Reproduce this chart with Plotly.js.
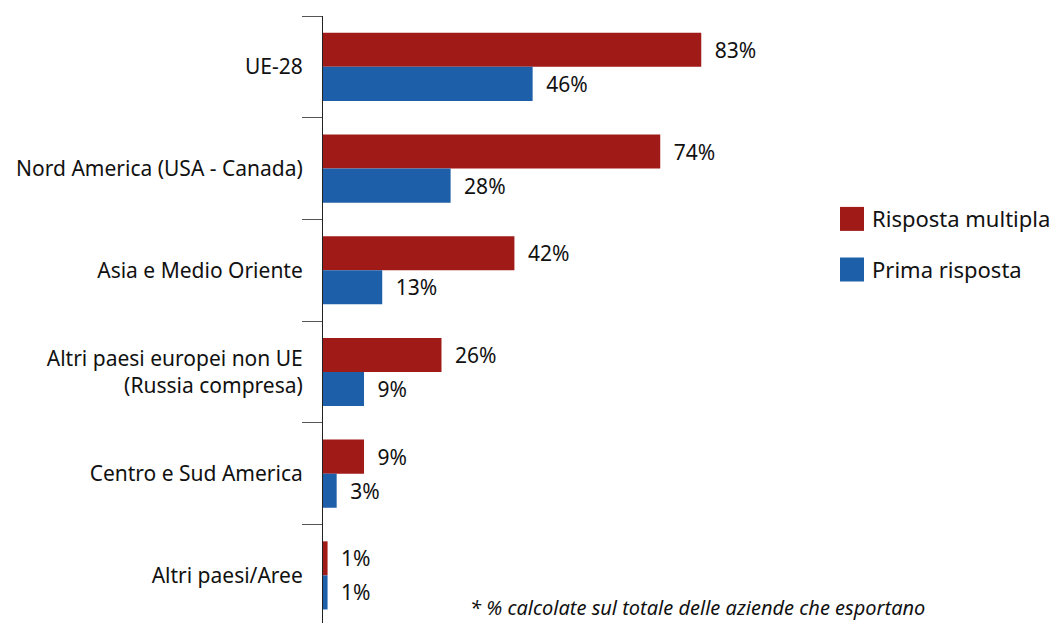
<!DOCTYPE html>
<html>
<head>
<meta charset="utf-8">
<script src="https://cdn.plot.ly/plotly-3.0.1.min.js"></script>
<style>
  html, body { margin: 0; padding: 0; background: #fff; }
  #chart { width: 1059px; height: 623px; }
</style>
</head>
<body>
<div id="chart"></div>
<script>
// Export destinations (share of exporting firms, %)
const categories = [
  "UE-28",
  "Nord America (USA - Canada)",
  "Asia e Medio Oriente",
  "Altri paesi europei non UE<br>(Russia compresa)",
  "Centro e Sud America",
  "Altri paesi/Aree"
];
const seriesNames = ["Risposta multipla", "Prima risposta"];
const rispostaMultipla = [83, 74, 42, 26, 9, 1];
const primaRisposta = [46, 28, 13, 9, 3, 1];
const footnote = "* % calcolate sul totale delle aziende che esportano";

const RED = "#A01A18";
const BLUE = "#1E5FAA";
const FONT = "Noto Sans, Open Sans, sans-serif";

function barTrace(name, values, color, group) {
  return {
    type: "bar",
    orientation: "h",
    name: name,
    legendgroup: group,
    y: categories,
    x: values,
    marker: { color: color, line: { width: 0 } },
    text: values.map(v => "\u2002" + v + "%"),
    texttemplate: "%{text}",
    textposition: "outside",
    cliponaxis: false,
    textfont: { family: FONT, size: 21, color: "#111111" },
    hoverinfo: "skip"
  };
}

const data = [
  barTrace(seriesNames[0], rispostaMultipla, RED, "a"),
  barTrace(seriesNames[1], primaRisposta, BLUE, "b")
];

const layout = {
  width: 1059,
  height: 623,
  margin: { l: 323, r: 0, t: 16, b: 0, pad: 0 },
  paper_bgcolor: "#ffffff",
  plot_bgcolor: "#ffffff",
  font: { family: FONT, size: 21, color: "#111111" },
  barmode: "group",
  bargap: 0.33,
  bargroupgap: 0,
  showlegend: true,
  legend: {
    x: 0.6916, xanchor: "left",
    y: 0.70, yanchor: "top",
    traceorder: "grouped",
    tracegroupgap: 19,
    font: { family: FONT, size: 22, color: "#111111" },
    bgcolor: "rgba(0,0,0,0)"
  },
  xaxis: {
    range: [0, 161.5],
    showgrid: false,
    zeroline: false,
    showline: false,
    showticklabels: false,
    ticks: ""
  },
  yaxis: {
    type: "category",
    range: [5.468, -0.5],
    showgrid: false,
    zeroline: false,
    showline: true,
    linecolor: "#222222",
    linewidth: 1,
    ticks: "outside",
    tickson: "boundaries",
    ticklen: 20,
    tickwidth: 1,
    tickcolor: "#555555",
    ticklabelstandoff: 15,
    tickfont: { family: FONT, size: 21, color: "#111111" }
  },
  annotations: [{
    xref: "paper", yref: "paper",
    x: 0.1975, y: 0.0,
    xanchor: "left", yanchor: "bottom",
    showarrow: false,
    text: footnote,
    font: { family: FONT, size: 20, color: "#111111", style: "italic" }
  }]
};

Plotly.newPlot("chart", data, layout, { displayModeBar: false, staticPlot: true })
  .then(gd => {
    // enlarge the legend swatches to 24px squares
    gd.querySelectorAll(".legend .legendpoints path").forEach(p => {
      p.setAttribute("d", "M12,12H-12V-12H12Z");
    });
  });
</script>
</body>
</html>
